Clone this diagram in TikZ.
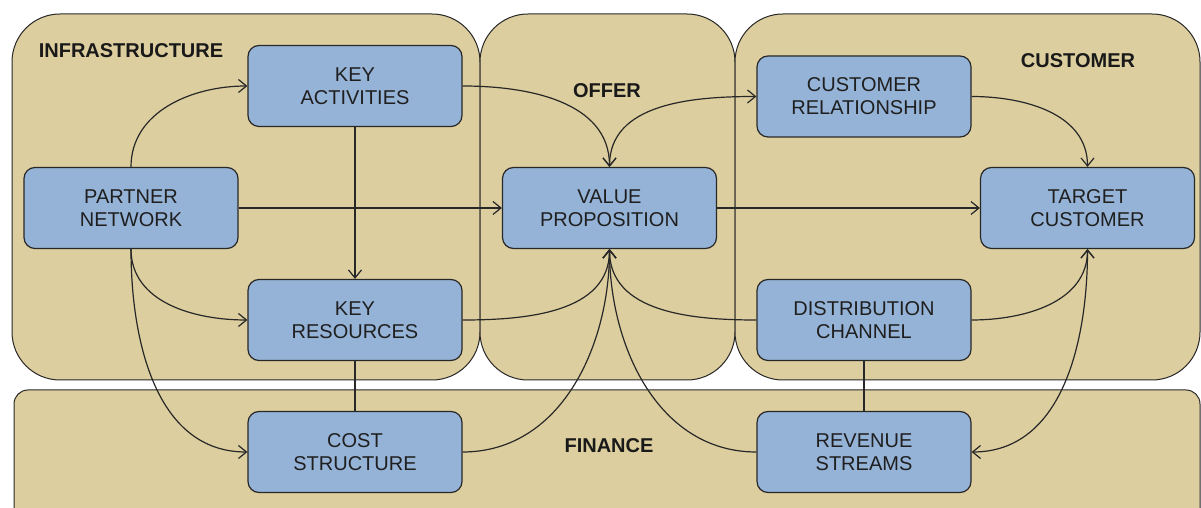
\documentclass[tikz,border=0pt]{standalone}
\usepackage{fontspec}
\setmainfont{Liberation Sans}
\usetikzlibrary{arrows.meta}
\definecolor{tanfill}{RGB}{220,206,158}
\definecolor{boxblue}{RGB}{149,179,215}
\definecolor{edgecol}{RGB}{40,40,40}
\begin{document}
\begin{tikzpicture}[x=1pt,y=1pt,
  panel/.style={draw=edgecol, fill=tanfill, line width=1pt, rounded corners=48pt},
  blk/.style={draw=edgecol, fill=boxblue, line width=1.2pt, rounded corners=11pt,
    minimum width=214pt, minimum height=81pt, align=center, inner sep=0pt,
    font=\fontsize{20}{23}\selectfont, text=black!88},
  lbl/.style={font=\fontsize{20}{23}\selectfont\bfseries, text=black!90, inner sep=0pt},
  conn/.style={draw=edgecol, line width=1.2pt, -{Straight Barb[length=8pt,width=13pt]}},
  bconn/.style={draw=edgecol, line width=1.2pt, {Straight Barb[length=8pt,width=13pt]}-{Straight Barb[length=8pt,width=13pt]}},
  plain/.style={draw=edgecol, line width=1.2pt}]
\useasboundingbox (0,0) rectangle (1201,508);
\clip (0,0) rectangle (1201,508);
% panels
\draw[panel] (12,128) rectangle (480,494);
\draw[panel] (480,128) rectangle (735,494);
\draw[panel] (735,128) rectangle (1200,494);
\draw[panel, rounded corners=14pt] (14,-40) rectangle (1200,118);
% labels
\node[lbl] (linfra) at (131,457) {INFRASTRUCTURE};
\node[lbl] (loffer) at (607,417) {OFFER};
\node[lbl] (lcust) at (1078,447) {CUSTOMER};
\node[lbl] (lfin) at (609,62) {FINANCE};
% boxes
\node[blk] (ka) at (355,422) {KEY\\ACTIVITIES};
\node[blk] (pn) at (131,300) {PARTNER\\NETWORK};
\node[blk] (kr) at (355,188) {KEY\\RESOURCES};
\node[blk] (cs) at (355,56) {COST\\STRUCTURE};
\node[blk] (vp) at (609.5,300) {VALUE\\PROPOSITION};
\node[blk] (cr) at (864,411.5) {CUSTOMER\\RELATIONSHIP};
\node[blk] (tc) at (1087.5,300) {TARGET\\CUSTOMER};
\node[blk] (dc) at (864,188) {DISTRIBUTION\\CHANNEL};
\node[blk] (rs) at (864,56) {REVENUE\\STREAMS};
% connectors
\draw[conn] (pn.north) to[out=90,in=180] (ka.west);
\draw[conn] (pn.east) -- (vp.west);
\draw[conn] (pn.south) to[out=-90,in=180] (kr.west);
\draw[conn] (pn.south) to[out=-90,in=180] (cs.west);
\draw[conn] (ka.south) -- (kr.north);
\draw[conn] (ka.east) to[out=0,in=90] (vp.north);
\draw[bconn] (vp.north) to[out=90,in=180] (cr.west);
\draw[conn] (cr.east) to[out=0,in=90] (tc.north);
\draw[conn] (vp.east) -- (tc.west);
\draw[conn] (kr.east) to[out=0,in=-90] (vp.south);
\draw[conn] (cs.east) to[out=0,in=-90] (vp.south);
\draw[conn] (dc.west) to[out=180,in=-90] (vp.south);
\draw[conn] (rs.west) to[out=180,in=-90] (vp.south);
\draw[conn] (dc.east) to[out=0,in=-90] (tc.south);
\draw[bconn] (tc.south) to[out=-90,in=0] (rs.east);
\draw[plain] (kr.south) -- (cs.north);
\draw[plain] (dc.south) -- (rs.north);
\end{tikzpicture}
\end{document}
